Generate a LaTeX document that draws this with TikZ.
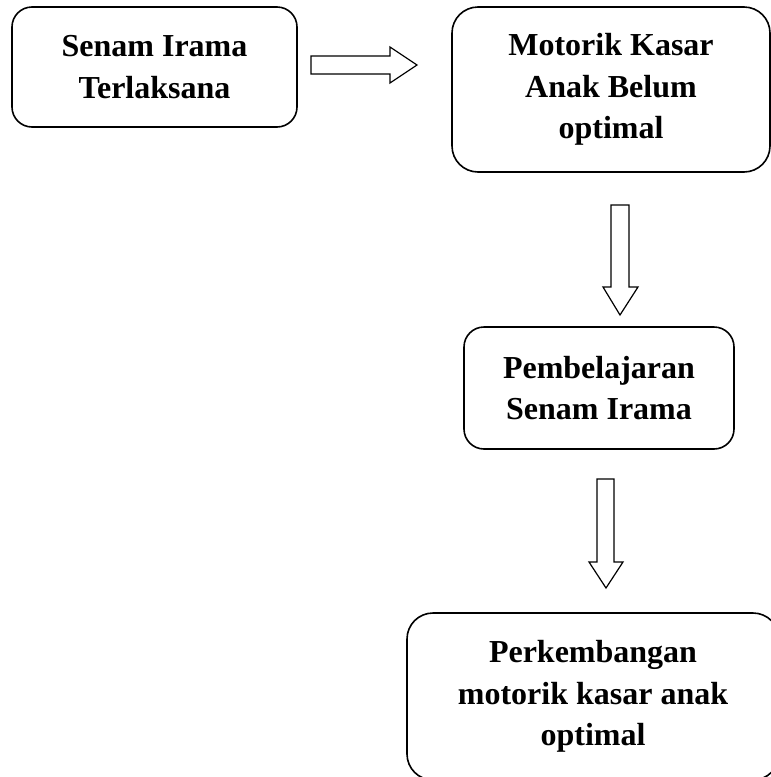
\documentclass[tikz,border=0pt]{standalone}
\usepackage{fontspec}
\setmainfont{Liberation Serif}
\begin{document}
\begin{tikzpicture}[x=1pt,y=-1pt,
  box/.style={draw, line width=1.6pt, rounded corners=#1, align=center, inner sep=0pt,
    font=\bfseries\fontsize{32}{41.5}\selectfont},
  box/.default=20pt,
  blockarrow/.style={draw, line width=1.2pt, fill=white, line join=miter}]
\useasboundingbox (0,0) rectangle (771,777);
\clip (0,0) rectangle (771,777);
% boxes
\node[box=20pt, minimum width=285pt, minimum height=120pt] (b1) at (154.5,67) {Senam Irama\\Terlaksana};
\node[box=26pt, minimum width=318pt, minimum height=165pt] (b2) at (611,89.5) {Motorik Kasar\\Anak Belum\\optimal};
\node[box=20pt, minimum width=270pt, minimum height=122pt] (b3) at (599,388) {Pembelajaran\\Senam Irama};
\node[box=26pt, minimum width=372pt, minimum height=167pt] (b4) at (593,696.5) {Perkembangan\\motorik kasar anak\\optimal};
% block arrows
\draw[blockarrow] (311,56) -- (390,56) -- (390,47) -- (417,65) -- (390,83) -- (390,74) -- (311,74) -- cycle;
\draw[blockarrow] (611,205) -- (629,205) -- (629,287) -- (638,287) -- (620,315) -- (603,287) -- (611,287) -- cycle;
\draw[blockarrow] (597,479) -- (614,479) -- (614,562) -- (623,562) -- (606,588) -- (589,562) -- (597,562) -- cycle;
\end{tikzpicture}
\end{document}
